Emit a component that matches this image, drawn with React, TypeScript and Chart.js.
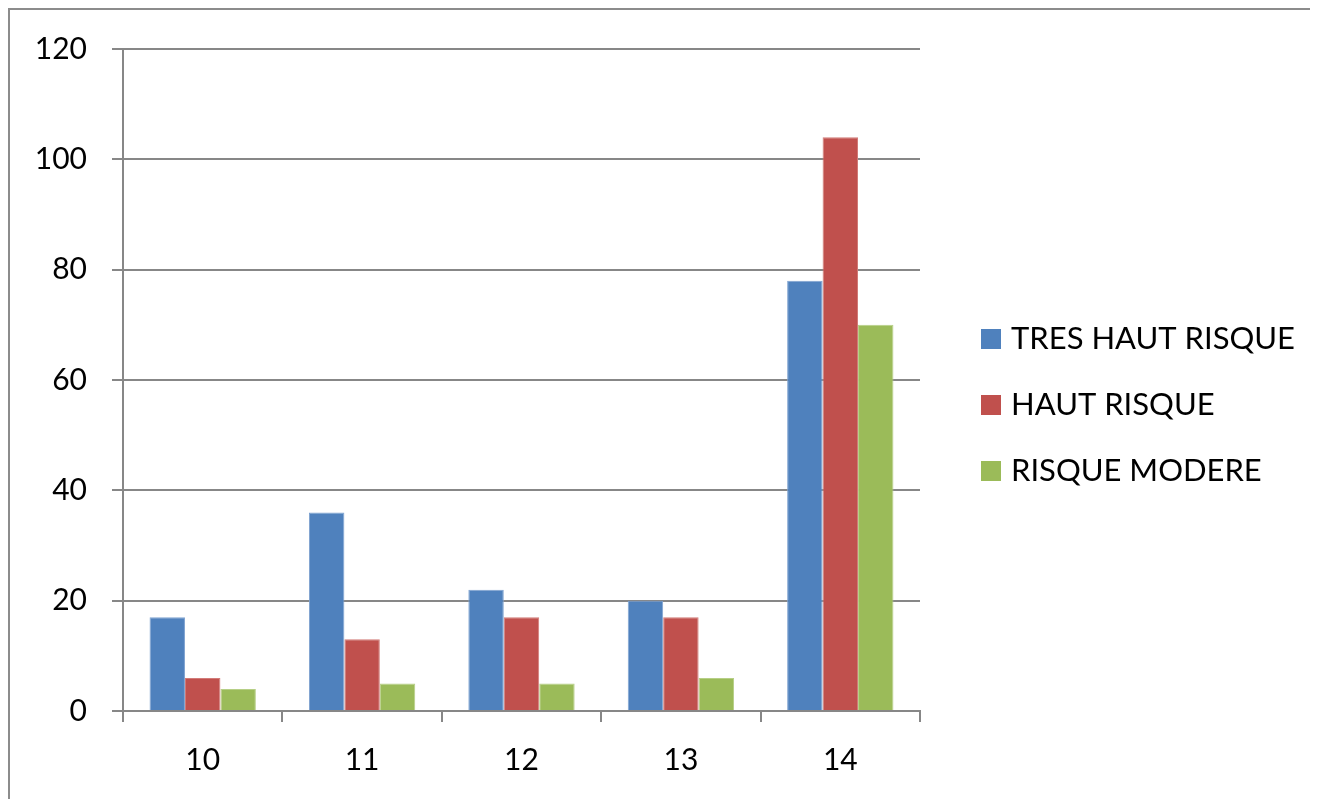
import React, { useEffect, useRef } from "react";
import { Chart, registerables } from "chart.js";

Chart.register(...registerables);

const categories = ["10", "11", "12", "13", "14"];
const seriesNames = ["TRES HAUT RISQUE", "HAUT RISQUE", "RISQUE MODERE"];
const tresHautRisque = [17, 36, 22, 20, 78];
const hautRisque = [6, 13, 17, 17, 104];
const risqueModere = [4, 5, 5, 6, 70];
const seriesColors = ["#4F81BD", "#C0504D", "#9BBB59"];
const seriesBorders = ["#7fa3d1", "#d27b78", "#b6cf86"];

const FONT = "Lato";
const GRID = "#878787";

const sideLegend = {
  id: "sideLegend",
  afterDraw(chart: any) {
    const ctx = chart.ctx;
    const ca = chart.chartArea;
    const midY = (ca.top + ca.bottom) / 2 + 25;
    ctx.save();
    ctx.font = `31px ${FONT}`;
    ctx.textBaseline = "middle";
    ctx.textAlign = "left";
    chart.data.datasets.forEach((ds: any, i: number) => {
      const cy = midY + (i - 1) * 66;
      const bx = ca.right + 61;
      ctx.fillStyle = ds.backgroundColor;
      ctx.fillRect(bx, cy - 10, 20, 20);
      ctx.fillStyle = "#000";
      ctx.fillText(ds.label, bx + 30, cy);
    });
    ctx.restore();
  },
};

export default function App() {
  const ref = useRef<HTMLCanvasElement>(null);
  useEffect(() => {
    document.documentElement.style.overflow = "hidden";
    document.body.style.overflow = "hidden";
    if (!ref.current) return;
    const values = [tresHautRisque, hautRisque, risqueModere];
    const chart = new Chart(ref.current, {
      type: "bar",
      data: {
        labels: categories,
        datasets: seriesNames.map((name, i) => ({
          label: name,
          data: values[i],
          backgroundColor: seriesColors[i],
          borderColor: seriesBorders[i],
          borderWidth: 1,
          barPercentage: 1,
          categoryPercentage: 0.667,
        })),
      },
      options: {
        animation: false,
        responsive: true,
        maintainAspectRatio: false,
        layout: { padding: { left: 25, top: 39, right: 398, bottom: 0 } },
        plugins: {
          legend: { display: false },
          title: { display: false },
          tooltip: { enabled: false },
        },
        scales: {
          x: {
            grid: {
              offset: true,
              drawOnChartArea: false,
              color: GRID,
              lineWidth: 2,
              tickLength: 11,
            },
            border: { color: GRID, width: 2 },
            ticks: {
              color: "#000",
              font: { family: FONT, size: 30 },
              padding: 20,
              maxRotation: 0,
            },
            afterFit: (s: any) => {
              s.height = 88;
            },
          },
          y: {
            min: 0,
            max: 120,
            ticks: {
              stepSize: 20,
              color: "#000",
              font: { family: FONT, size: 30, lineHeight: 0.9 },
              padding: 25,
            },
            grid: { color: GRID, lineWidth: 2, tickLength: 11 },
            border: { color: GRID, width: 2 },
            afterFit: (s: any) => {
              s.width = 88;
            },
          },
        },
      },
      plugins: [sideLegend],
    });
    return () => chart.destroy();
  }, []);

  return (
    <div
      style={{
        position: "relative",
        width: 1330,
        height: 800,
        boxSizing: "border-box",
        borderLeft: "2px solid #8c8c8c",
        borderTop: "2px solid #8c8c8c",
        background: "#fff",
      }}
    >
      <div style={{ position: "absolute", left: 0, top: 0, width: 1308, height: 789 }}>
        <canvas ref={ref} />
      </div>
    </div>
  );
}
